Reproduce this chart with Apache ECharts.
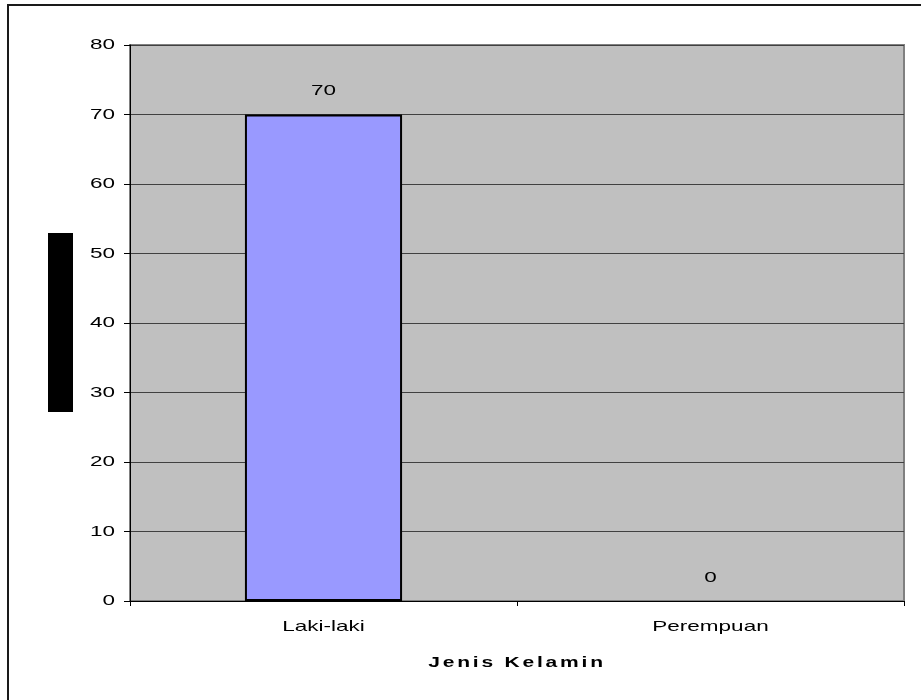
<!DOCTYPE html>
<html>
<head>
<meta charset="utf-8">
<script src="https://cdn.jsdelivr.net/npm/echarts@6/dist/echarts.min.js"></script>
<style>
  html, body { margin: 0; padding: 0; background: #fff; }
  #chart { width: 921px; height: 700px; }
</style>
</head>
<body>
<div id="chart"></div>
<script>
// Jumlah responden menurut jenis kelamin
const categories = ['Laki-laki', 'Perempuan'];
const values = [70, 0];
const yTicks = { min: 0, max: 80, interval: 10 };
const xAxisTitle = 'Jenis Kelamin';

// Horizontally stretched lettering: each string is widened around its anchor,
// so the text alignment chosen by ECharts (left / center / right) is kept.
// The bold axis title is also tracked out a little.
const baseFillText = CanvasRenderingContext2D.prototype.fillText;
CanvasRenderingContext2D.prototype.fillText = function (text, x, y, maxWidth) {
  const bold = /bold/.test(this.font);
  const stretch = bold ? 1.4 : 1.5;
  this.save();
  if ('letterSpacing' in this) {
    this.letterSpacing = bold ? '2px' : '0px';
  }
  this.translate(x, y);
  this.scale(stretch, 1);
  if (maxWidth === undefined) {
    baseFillText.call(this, text, 0, 0);
  } else {
    baseFillText.call(this, text, 0, 0, maxWidth / stretch);
  }
  this.restore();
};

const font = '"Liberation Sans", Arial, sans-serif';
const chart = echarts.init(document.getElementById('chart'), null, { renderer: 'canvas' });

chart.setOption({
  animation: false,
  backgroundColor: '#ffffff',
  grid: {
    left: 130, right: 17, top: 45, bottom: 99,
    show: true,
    backgroundColor: '#c0c0c0',
    borderColor: '#808080',
    borderWidth: 2
  },
  xAxis: {
    type: 'category',
    data: categories,
    name: xAxisTitle,
    nameLocation: 'middle',
    nameGap: 54,
    nameTextStyle: { fontFamily: font, fontSize: 15, fontWeight: 'bold', color: '#000' },
    axisLine: { lineStyle: { color: '#000', width: 1 } },
    axisTick: { show: true, alignWithLabel: false, length: 5, lineStyle: { color: '#000' } },
    axisLabel: { fontFamily: font, fontSize: 15, color: '#000', margin: 18 },
    splitLine: { show: false }
  },
  yAxis: {
    type: 'value',
    min: yTicks.min, max: yTicks.max, interval: yTicks.interval,
    axisLine: { show: true, lineStyle: { color: '#000', width: 1 } },
    axisTick: { show: true, length: 6, lineStyle: { color: '#000' } },
    axisLabel: { fontFamily: font, fontSize: 15, color: '#000', margin: 15 },
    splitLine: { show: true, lineStyle: { color: '#404040', width: 1 } }
  },
  series: [{
    type: 'bar',
    data: values.map(v => (v === 0 ? { value: v, itemStyle: { borderWidth: 0 } } : v)),
    barWidth: '40.6%',
    itemStyle: { color: '#9999ff', borderColor: '#000', borderWidth: 2 },
    label: {
      show: true, position: 'top', distance: 16,
      fontFamily: font, fontSize: 15, color: '#000'
    }
  }],
  graphic: [
    {
      type: 'rect', silent: true, z: -1,
      shape: { x: 8, y: 5, width: 1000, height: 1000 },
      style: { fill: 'none', stroke: '#1a1a1a', lineWidth: 2 }
    },
    {
      type: 'rect', silent: true,
      shape: { x: 48, y: 233, width: 25, height: 179 },
      style: { fill: '#000' }
    }
  ]
});
</script>
</body>
</html>
